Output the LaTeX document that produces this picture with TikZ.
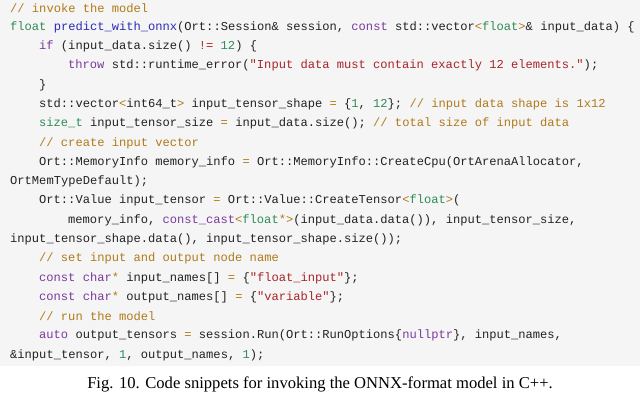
\documentclass[tikz,border=0pt]{standalone}
\usepackage{fontspec}
\setmainfont{Liberation Serif}
\newfontfamily\code{Liberation Mono}
\definecolor{bgc}{HTML}{F5F5F5}
\definecolor{kwc}{HTML}{7B3A9E}
\definecolor{tyc}{HTML}{2E8B57}
\definecolor{fnc}{HTML}{2A2AB8}
\definecolor{cmc}{HTML}{B07A1A}
\definecolor{stc}{HTML}{A8242A}
\definecolor{txc}{HTML}{222222}
\newcommand\kw[1]{\textcolor{kwc}{#1}}
\newcommand\ty[1]{\textcolor{tyc}{#1}}
\newcommand\fn[1]{\textcolor{fnc}{#1}}
\newcommand\cm[1]{\textcolor{cmc}{#1}}
\newcommand\st[1]{\textcolor{stc}{#1}}
\begin{document}
\begin{tikzpicture}[x=1pt,y=1pt,
  cl/.style={anchor=west,inner sep=0pt,font=\code\fontsize{12.1}{12}\selectfont,text=txc}]
\useasboundingbox (0,0) rectangle (640,-406);
\fill[bgc] (0,0) rectangle (640,-366);
\def\dy{19.28}
\node[cl] (l1) at (10,-8-0*\dy) {\cm{// invoke the model}};
\node[cl] (l2) at (10,-8-1*\dy) {\ty{float} \fn{predict\_with\_onnx}(Ort::Session\& session, \kw{const} std::vector\cm{<}\ty{float}\cm{>}\& input\_data) \{};
\node[cl] (l3) at (39,-8-2*\dy) {\kw{if} (input\_data.size() \st{!=} \ty{12}) \{};
\node[cl] (l4) at (68,-8-3*\dy) {\kw{throw} std::runtime\_error(\st{"Input data must contain exactly 12 elements."});};
\node[cl] (l5) at (39,-8-4*\dy) {\}};
\node[cl] (l6) at (39,-8-5*\dy) {std::vector\cm{<}int64\_t\cm{>} input\_tensor\_shape \cm{=} \{\ty{1}, \ty{12}\}; \cm{// input data shape is 1x12}};
\node[cl] (l7) at (39,-8-6*\dy) {\ty{size\_t} input\_tensor\_size \cm{=} input\_data.size(); \cm{// total size of input data}};
\node[cl] (l8) at (39,-8-7*\dy) {\cm{// create input vector}};
\node[cl] (l9) at (39,-8-8*\dy) {Ort::MemoryInfo memory\_info \cm{=} Ort::MemoryInfo::CreateCpu(OrtArenaAllocator,};
\node[cl] (l10) at (10,-8-9*\dy) {OrtMemTypeDefault);};
\node[cl] (l11) at (39,-8-10*\dy) {Ort::Value input\_tensor \cm{=} Ort::Value::CreateTensor\cm{<}\ty{float}\cm{>}(};
\node[cl] (l12) at (68,-8-11*\dy) {memory\_info, \kw{const\_cast}\cm{<}\ty{float}\cm{*>}(input\_data.data()), input\_tensor\_size,};
\node[cl] (l13) at (10,-8-12*\dy) {input\_tensor\_shape.data(), input\_tensor\_shape.size());};
\node[cl] (l14) at (39,-8-13*\dy) {\cm{// set input and output node name}};
\node[cl] (l15) at (39,-8-14*\dy) {\kw{const char}\cm{*} input\_names[] \cm{=} \{\st{"float\_input"}\};};
\node[cl] (l16) at (39,-8-15*\dy) {\kw{const char}\cm{*} output\_names[] \cm{=} \{\st{"variable"}\};};
\node[cl] (l17) at (39,-8-16*\dy) {\cm{// run the model}};
\node[cl] (l18) at (39,-8-17*\dy) {\kw{auto} output\_tensors \cm{=} session.Run(Ort::RunOptions\{\kw{nullptr}\}, input\_names,};
\node[cl] (l19) at (10,-8-18*\dy) {\&input\_tensor, \ty{1}, output\_names, \ty{1});};
\node[font=\fontsize{16.6}{20}\selectfont,inner sep=0pt] (cap) at (320,-384) {Fig. 10. Code snippets for invoking the ONNX-format model in C++.};
\end{tikzpicture}
\end{document}
